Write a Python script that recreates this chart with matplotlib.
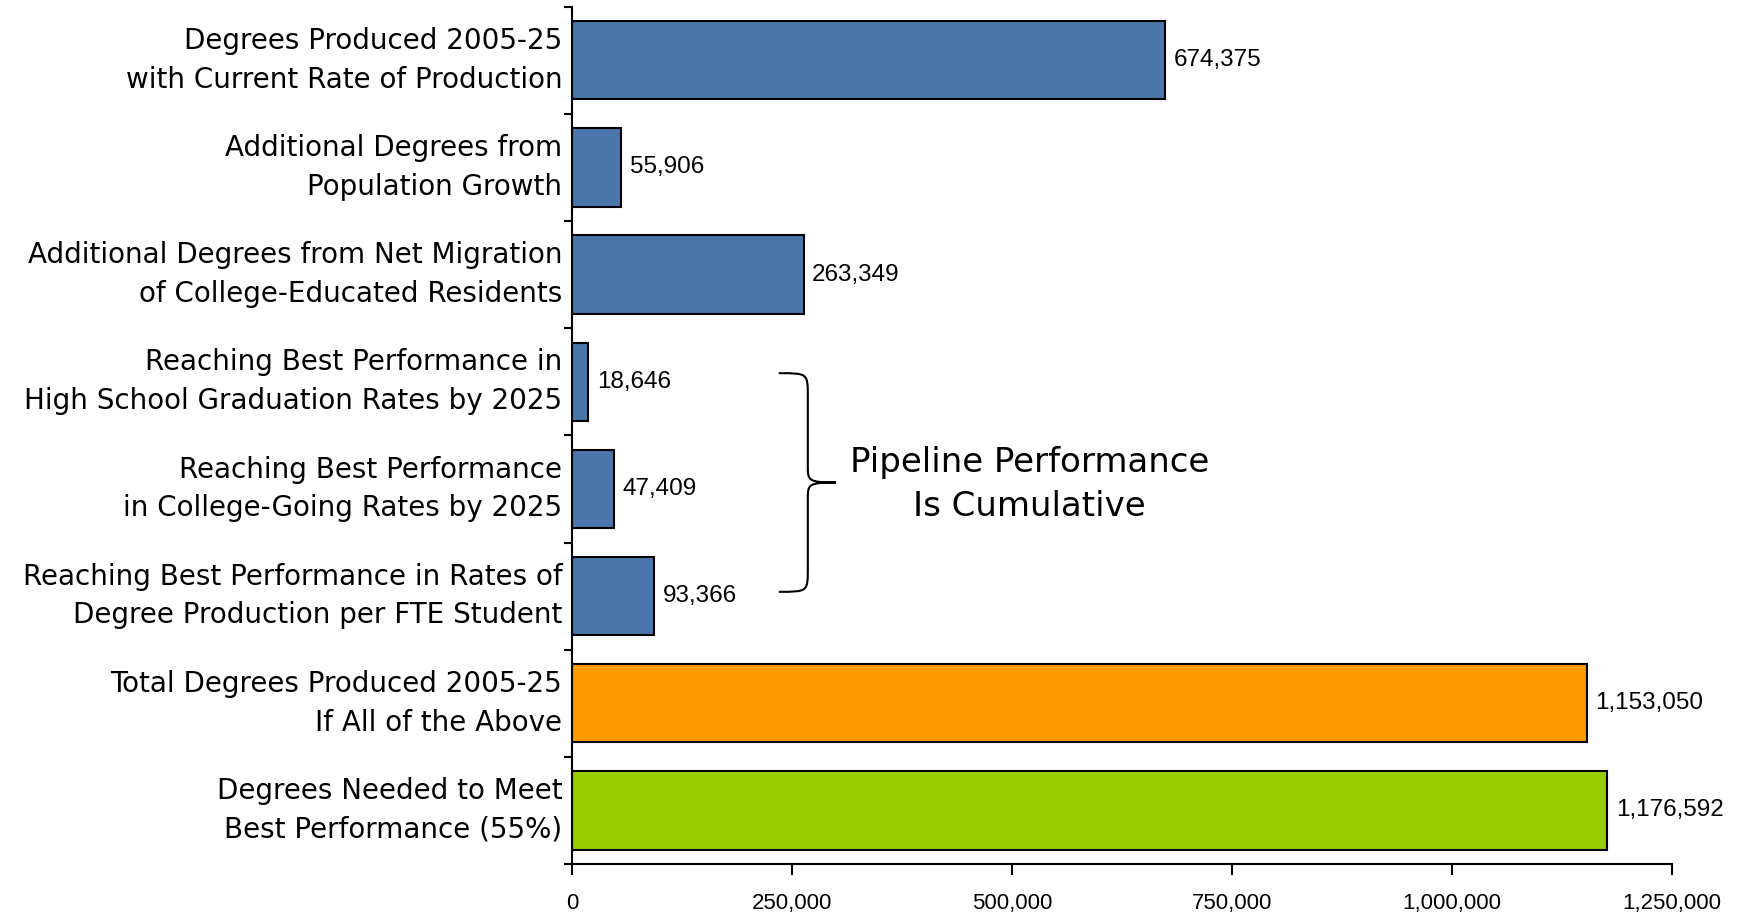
import matplotlib
matplotlib.use("Agg")
import matplotlib.pyplot as plt
from matplotlib.path import Path
from matplotlib.patches import PathPatch
from matplotlib.ticker import FuncFormatter

# chart data, top to bottom
categories = [
    "Degrees Produced 2005-25\nwith Current Rate of Production",
    "Additional Degrees from\nPopulation Growth",
    "Additional Degrees from Net Migration\nof College-Educated Residents",
    "Reaching Best Performance in\nHigh School Graduation Rates by 2025",
    "Reaching Best Performance\nin College-Going Rates by 2025",
    "Reaching Best Performance in Rates of\nDegree Production per FTE Student",
    "Total Degrees Produced 2005-25\nIf All of the Above",
    "Degrees Needed to Meet\nBest Performance (55%)",
]
values = [674375, 55906, 263349, 18646, 47409, 93366, 1153050, 1176592]
bar_colors = ["#4A76AC"] * 6 + ["#FF9900", "#99CC00"]
x_ticks = [0, 250000, 500000, 750000, 1000000, 1250000]
note = "Pipeline Performance\nIs Cumulative"

fig = plt.figure(figsize=(17.46, 9.14), dpi=100)
ax = fig.add_axes([0.3276, 0.0547, 0.63, 0.938])

pos = list(range(len(values)))
ax.barh(pos, values, height=0.73, color=bar_colors, edgecolor="black", linewidth=1.5)
ax.set_ylim(len(values) - 0.5, -0.5)
ax.set_xlim(0, 1250000)

# value labels at bar ends
for p, v in zip(pos, values):
    ax.annotate(f"{v:,}", (v, p), xytext=(6, 0), textcoords="offset points",
                va="center", ha="left", fontsize=17.5, family="Liberation Sans")

# y axis: labels centered on bars, ticks between categories
ax.set_yticks(pos)
ax.set_yticklabels(categories, fontsize=20, family="DejaVu Sans", linespacing=1.48, va="center")
ax.set_yticks([i - 0.5 for i in range(len(values) + 1)], minor=True)
ax.tick_params(axis="y", which="major", length=0, pad=7)
ax.tick_params(axis="y", which="minor", length=6, width=1.5, direction="out")

ax.set_xticks(x_ticks)
ax.xaxis.set_major_formatter(FuncFormatter(lambda x, _: f"{int(x):,}"))
ax.tick_params(axis="x", length=8, width=1.5, direction="out", pad=13, labelsize=16)
for lab in ax.get_xticklabels():
    lab.set_family("Liberation Sans")

for s in ["top", "right"]:
    ax.spines[s].set_visible(False)
for s in ["left", "bottom"]:
    ax.spines[s].set_linewidth(1.5)

# curly brace next to the pipeline bars
x0, x1, x2 = 235000, 268000, 300000
ya, ym, yb = 2.92, 3.94, 4.96
verts = [
    (x0, ya),
    (x1, ya), (x1, ya), (x1, ya + 0.22),
    (x1, ym - 0.15),
    (x1, ym - 0.02), (x1, ym), (x2, ym),
    (x1, ym), (x1, ym + 0.02), (x1, ym + 0.15),
    (x1, yb - 0.22),
    (x1, yb), (x1, yb), (x0, yb),
]
codes = [Path.MOVETO,
         Path.CURVE4, Path.CURVE4, Path.CURVE4,
         Path.LINETO,
         Path.CURVE4, Path.CURVE4, Path.CURVE4,
         Path.CURVE4, Path.CURVE4, Path.CURVE4,
         Path.LINETO,
         Path.CURVE4, Path.CURVE4, Path.CURVE4]
ax.add_patch(PathPatch(Path(verts, codes), fill=False, lw=1.5, edgecolor="black"))

ax.text(520000, 3.96, note, ha="center", va="center", fontsize=24.5,
        family="DejaVu Sans", linespacing=1.45)

fig.savefig("out.png", dpi=100)
